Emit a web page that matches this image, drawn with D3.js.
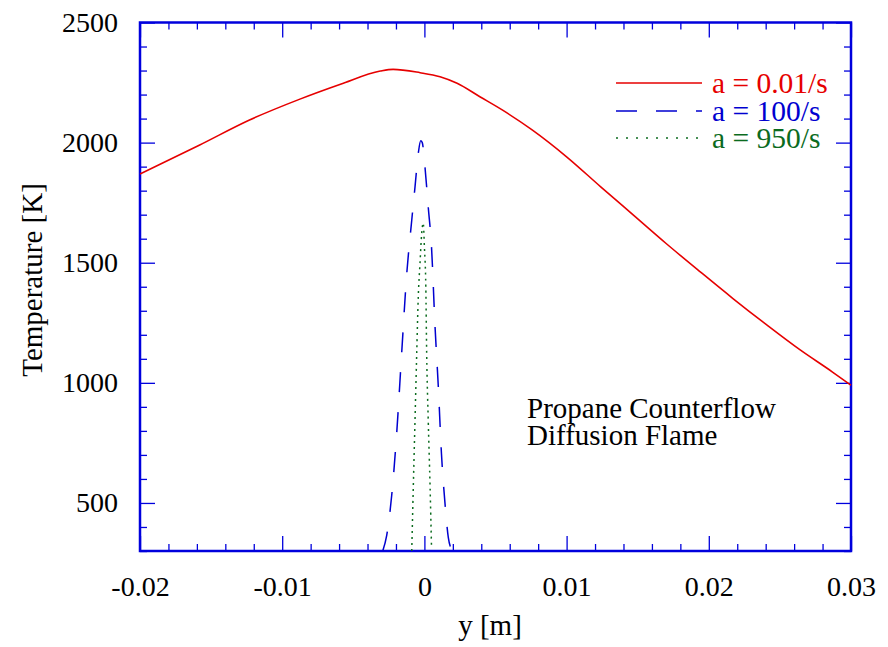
<!DOCTYPE html>
<html>
<head>
<meta charset="utf-8">
<script src="https://cdn.jsdelivr.net/npm/d3@7"></script>
<style>
  html, body { margin: 0; padding: 0; background: #fff; }
  svg { display: block; font-family: "Liberation Serif", "Times New Roman", serif; }
</style>
</head>
<body>
<svg id="chart" width="888" height="647"></svg>
<script>
// ---- data ----
const redX = [-0.02, -0.0158, -0.0123, -0.0088, -0.0059, -0.0031, -0.0022, -0.0003, 0.0011, 0.0023, 0.0039, 0.0055, 0.0076, 0.0100, 0.0124, 0.0147, 0.0170, 0.0194, 0.0217, 0.0241, 0.0264, 0.0287, 0.0300];
const redT = [1869, 1990, 2094, 2180, 2243, 2298, 2305, 2291, 2274, 2247, 2191, 2135, 2052, 1941, 1816, 1698, 1580, 1462, 1351, 1240, 1138, 1045, 990];

const blueX = [-0.00293, -0.00265, -0.0023, -0.00195, -0.0016, -0.00124, -0.00089, -0.00066, -0.00043, -0.00026, -0.00015, 0.00004, 0.00027, 0.0005, 0.00075, 0.00098, 0.0012, 0.00145, 0.00168, 0.0019];
const blueT = [300, 365, 531, 789, 1122, 1455, 1677, 1816, 1955, 2008, 2000, 1899, 1732, 1566, 1232, 982, 705, 497, 357, 307];

const greenX = [-0.00089, -0.00078, -0.00066, -0.00054, -0.00043, -0.00031, -0.00019, -0.00008, 0.0, 0.0001, 0.00016, 0.00027, 0.0004, 0.0005];
const greenT = [300, 568, 844, 1122, 1360, 1497, 1622, 1665, 1566, 1399, 1122, 844, 566, 316];

const seriesNames = ["a = 0.01/s", "a = 100/s", "a = 950/s"];
const xTicks = [-0.02, -0.01, 0, 0.01, 0.02, 0.03];
const xTickLabels = ["-0.02", "-0.01", "0", "0.01", "0.02", "0.03"];
const yTicks = [500, 1000, 1500, 2000, 2500];
const yTickLabels = ["500", "1000", "1500", "2000", "2500"];
const xLabel = "y [m]";
const yLabel = "Temperature [K]";
const noteLines = ["Propane Counterflow", "Diffusion Flame"];

// ---- layout ----
const L = 140, R = 851, T = 22.5, B = 551;
const svg = d3.select("#chart");
const x = d3.scaleLinear().domain([-0.02, 0.03]).range([L, R]);
const y = d3.scaleLinear().domain([300, 2500]).range([B, T]);

const axisColor = "#0000dd";
const colors = ["#e60000", "#0000d0", "#0b6b1e"];
const dashes = [null, "20,20", "2,4"];

// minor ticks
const xMinor = d3.range(-0.02, 0.03001, 0.002).filter(v => !xTicks.some(t => Math.abs(t - v) < 1e-9));
const yMinor = d3.range(300, 2501, 100).filter(v => !yTicks.includes(v));

function styleAxis(g) {
  g.select(".domain").remove();
  g.selectAll(".tick line").attr("stroke", axisColor).attr("stroke-width", 1.3);
  g.selectAll(".tick text").attr("fill", "#000").style("font-size", "28px")
    .style("font-family", '"Liberation Serif", "Times New Roman", serif');
}

// bottom (labels)
svg.append("g").attr("transform", `translate(0,${B})`)
  .call(d3.axisBottom(x).tickValues(xTicks).tickSize(-15).tickPadding(25)
        .tickFormat((d, i) => xTickLabels[i]))
  .call(styleAxis);
svg.append("g").attr("transform", `translate(0,${B})`)
  .call(d3.axisBottom(x).tickValues(xMinor).tickSize(-7).tickFormat(""))
  .call(styleAxis);
// top
svg.append("g").attr("transform", `translate(0,${T})`)
  .call(d3.axisTop(x).tickValues(xTicks).tickSize(-15).tickFormat(""))
  .call(styleAxis);
svg.append("g").attr("transform", `translate(0,${T})`)
  .call(d3.axisTop(x).tickValues(xMinor).tickSize(-7).tickFormat(""))
  .call(styleAxis);
// left (labels)
svg.append("g").attr("transform", `translate(${L},0)`)
  .call(d3.axisLeft(y).tickValues(yTicks).tickSize(-15).tickPadding(22)
        .tickFormat((d, i) => yTickLabels[i]))
  .call(styleAxis);
svg.append("g").attr("transform", `translate(${L},0)`)
  .call(d3.axisLeft(y).tickValues(yMinor).tickSize(-7).tickFormat(""))
  .call(styleAxis);
// right
svg.append("g").attr("transform", `translate(${R},0)`)
  .call(d3.axisRight(y).tickValues(yTicks).tickSize(-15).tickFormat(""))
  .call(styleAxis);
svg.append("g").attr("transform", `translate(${R},0)`)
  .call(d3.axisRight(y).tickValues(yMinor).tickSize(-7).tickFormat(""))
  .call(styleAxis);

// frame
svg.append("rect").attr("x", L).attr("y", T).attr("width", R - L).attr("height", B - T)
  .attr("fill", "none").attr("stroke", axisColor).attr("stroke-width", 2.5);

// curves
const series = [
  redX.map((v, i) => [v, redT[i]]),
  blueX.map((v, i) => [v, blueT[i]]),
  greenX.map((v, i) => [v, greenT[i]])
];
const line = d3.line().x(d => x(d[0])).y(d => y(d[1])).curve(d3.curveMonotoneX);
const plot = svg.append("g");
series.forEach((s, i) => {
  plot.append("path").datum(s).attr("d", line)
    .attr("fill", "none").attr("stroke", colors[i])
    .attr("stroke-width", i === 0 ? 1.6 : 1.5)
    .attr("stroke-dasharray", dashes[i]);
});

// legend
const legY = [83, 111, 138];
const legendDash = [null, "21,19", "2,8"];
seriesNames.forEach((name, i) => {
  svg.append("line").attr("x1", 616).attr("x2", 702).attr("y1", legY[i]).attr("y2", legY[i])
    .attr("stroke", colors[i]).attr("stroke-width", 1.5).attr("stroke-dasharray", legendDash[i]);
  svg.append("text").attr("x", 712).attr("y", legY[i] + 10)
    .attr("fill", colors[i]).style("font-size", "29.5px").text(name);
});

// annotation
noteLines.forEach((t, i) => {
  svg.append("text").attr("x", 527).attr("y", 418 + i * 27)
    .attr("fill", "#000").style("font-size", "29px").text(t);
});

// axis labels
svg.append("text").attr("x", 490).attr("y", 635).attr("text-anchor", "middle")
  .style("font-size", "29px").attr("fill", "#000").text(xLabel);
svg.append("text").attr("transform", "translate(42,280) rotate(-90)").attr("text-anchor", "middle")
  .style("font-size", "29px").attr("fill", "#000").text(yLabel);
</script>
</body>
</html>
